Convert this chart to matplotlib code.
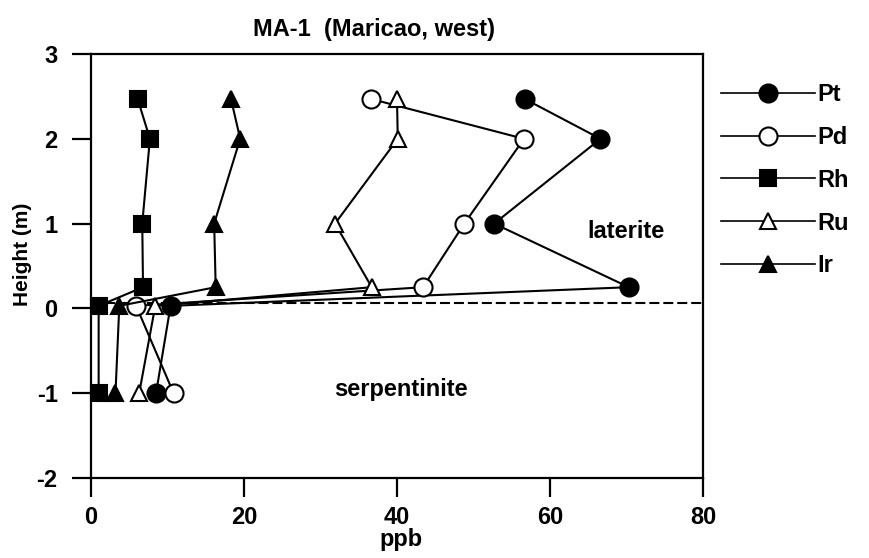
import matplotlib
matplotlib.use("Agg")
import matplotlib.pyplot as plt
from matplotlib.lines import Line2D

plt.rcParams['font.family'] = ['Liberation Sans', 'DejaVu Sans']
plt.rcParams['font.weight'] = 'bold'

# Sample heights (m) relative to the laterite/serpentinite contact
heights = [2.47, 2.0, 1.0, 0.25, 0.03, -1.0]

# PGE concentrations (ppb) at each height
pt = [56.7, 66.6, 52.7, 70.3, 10.4, 8.5]
pd = [36.6, 56.6, 48.8, 43.4, 5.9, 10.8]
rh = [6.1, 7.7, 6.7, 6.8, 1.0, 1.0]
ru = [40.0, 40.1, 31.9, 36.7, 8.4, 6.3]
ir = [18.3, 19.5, 16.1, 16.3, 3.7, 3.2]

contact_level = 0.06
x_ticks = [0, 20, 40, 60, 80]
y_ticks = [-2, -1, 0, 1, 2, 3]

fig = plt.figure(figsize=(8.69, 5.58), dpi=100)
ax = fig.add_axes([91 / 869, 80 / 558, (703 - 91) / 869, (478 - 54) / 558])

lw = 1.5
styles = [
    ("Pt", pt, dict(marker='o', markersize=13, markerfacecolor='black')),
    ("Pd", pd, dict(marker='o', markersize=13, markerfacecolor='white')),
    ("Rh", rh, dict(marker='s', markersize=11, markerfacecolor='black')),
    ("Ru", ru, dict(marker='^', markersize=12, markerfacecolor='white')),
    ("Ir", ir, dict(marker='^', markersize=12, markerfacecolor='black')),
]

ax.plot([0, 80], [contact_level, contact_level], color='black', lw=1.5,
        dashes=(4.8, 1.9), zorder=1)

handles = []
for name, vals, st in styles:
    ax.plot(vals, heights, color='black', lw=lw, markeredgecolor='black',
            markeredgewidth=1.5, clip_on=False, zorder=3, **st)
    handles.append(Line2D([], [], color='black', lw=1.2, markeredgecolor='black',
                          markeredgewidth=1.5, label=name, **st))

ax.set_xlim(0, 80)
ax.set_ylim(-2, 3)
ax.set_xticks(x_ticks)
ax.set_yticks(y_ticks)
ax.set_xticklabels([str(v) for v in x_ticks])
ax.set_yticklabels([str(v) for v in y_ticks])

for s in ax.spines.values():
    s.set_linewidth(1.6)
ax.tick_params(direction='out', length=14, width=1.6, labelsize=17)
ax.tick_params(axis='x', pad=6)
ax.tick_params(axis='y', pad=10)

ax.set_title("MA-1  (Maricao, west)", fontsize=17, fontweight='bold',
             x=0.462, pad=13)
ax.set_xlabel("ppb", fontsize=17, fontweight='bold')
ax.xaxis.set_label_coords(0.507, -0.118)
ax.set_ylabel("Height (m)", fontsize=15, fontweight='bold')
ax.yaxis.set_label_coords(-0.097, 0.528)

ax.text(69.9, 0.91, "laterite", fontsize=17, fontweight='bold',
        ha='center', va='center')
ax.text(40.5, -0.96, "serpentinite", fontsize=17, fontweight='bold',
        ha='center', va='center')

fig.legend(handles=handles, loc='upper left',
           bbox_to_anchor=(721 / 869, 1 - 83 / 558),
           bbox_transform=fig.transFigure, frameon=False,
           fontsize=17, handlelength=4.0, handletextpad=0.1,
           labelspacing=0.84, borderpad=0, borderaxespad=0)

fig.savefig("out.png", dpi=100)
